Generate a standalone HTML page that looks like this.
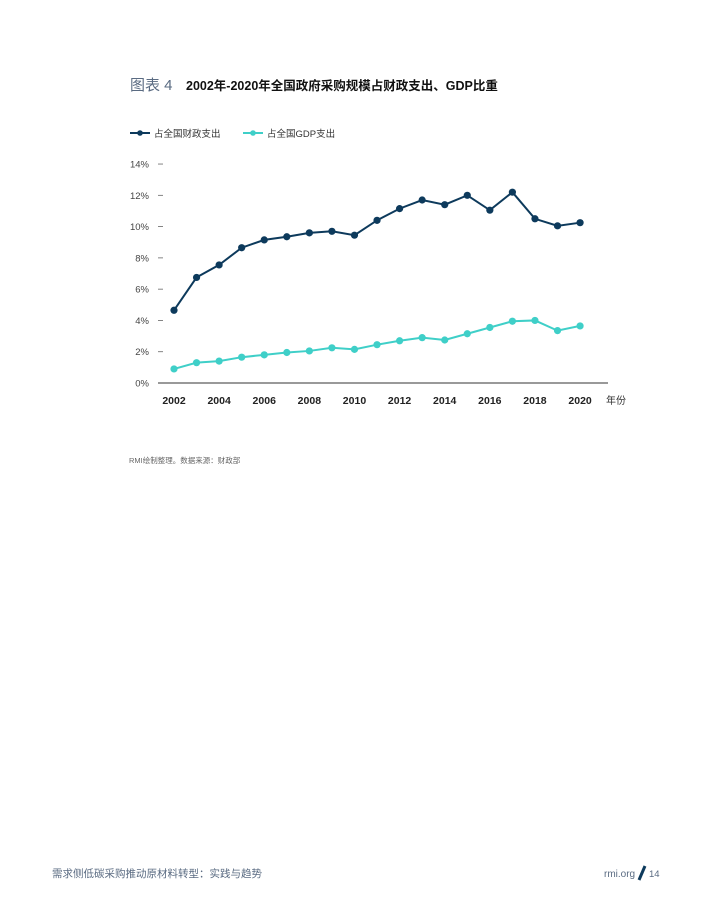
<!DOCTYPE html>
<html><head><meta charset="utf-8"><style>
body{margin:0;background:#fff;width:710px;height:919px;overflow:hidden;font-family:"Liberation Sans","Noto Sans CJK SC",sans-serif;}
</style></head><body>
<svg id="s" width="710" height="919" xmlns="http://www.w3.org/2000/svg" style="position:absolute;left:0;top:0">
<text x="130" y="90" font-size="15" fill="#5a6b82" font-family="Liberation Sans,Noto Sans CJK SC,sans-serif">图表 4</text>
<text x="186" y="90" font-size="12.5" font-weight="bold" fill="#111" font-family="Liberation Sans,Noto Sans CJK SC,sans-serif">2002年-2020年全国政府采购规模占财政支出、GDP比重</text>
<line x1="130" y1="133" x2="150" y2="133" stroke="#0d3a5c" stroke-width="2"/><circle cx="140" cy="133" r="2.8" fill="#0d3a5c"/>
<text x="154" y="137" font-size="9.5" fill="#333" font-family="Liberation Sans,Noto Sans CJK SC,sans-serif">占全国财政支出</text>
<line x1="243" y1="133" x2="263" y2="133" stroke="#3fcfc8" stroke-width="2"/><circle cx="253" cy="133" r="2.8" fill="#3fcfc8"/>
<text x="267" y="137" font-size="9.5" fill="#333" font-family="Liberation Sans,Noto Sans CJK SC,sans-serif">占全国GDP支出</text>
<g id="ax" font-size="9.5" fill="#444" font-family="Liberation Sans,sans-serif"></g>
<line x1="158" y1="383" x2="608" y2="383" stroke="#333" stroke-width="1"/>
<text x="606" y="404" font-size="10" fill="#333" font-family="Liberation Sans,Noto Sans CJK SC,sans-serif">年份</text>
<g id="d"></g>
<text x="129" y="463" font-size="7.5" fill="#666" font-family="Liberation Sans,Noto Sans CJK SC,sans-serif">RMI绘制整理。数据来源：财政部</text>
<text x="52" y="877" font-size="10.5" fill="#5a6b82" font-family="Liberation Sans,Noto Sans CJK SC,sans-serif">需求侧低碳采购推动原材料转型：实践与趋势</text>
<text x="604" y="877" font-size="10" fill="#5a6b82" font-family="Liberation Sans,sans-serif">rmi.org</text>
<line x1="639" y1="880" x2="645" y2="866" stroke="#0d3a5c" stroke-width="3"/>
<text x="649" y="877" font-size="9.5" fill="#5a6b82" font-family="Liberation Sans,sans-serif">14</text>
</svg>
<script>
var NS="http://www.w3.org/2000/svg";
function el(p,t,a,tx){var e=document.createElementNS(NS,t);for(var k in a)e.setAttribute(k,a[k]);if(tx)e.textContent=tx;p.appendChild(e);return e;}
var ax=document.getElementById('ax'),d=document.getElementById('d');
function Y(v){return 383-v*15.64;}function X(i){return 174+i*22.56;}
for(var v=0;v<=14;v+=2){el(ax,'text',{x:149,y:Y(v)+3.5,'text-anchor':'end'},v+'%');if(v>0)el(ax,'line',{x1:158,y1:Y(v),x2:163,y2:Y(v),stroke:'#666','stroke-width':0.8});}
for(var i=0;i<=18;i+=2){el(ax,'text',{x:X(i),y:404,'text-anchor':'middle','font-weight':'bold','font-size':10.5,fill:'#222'},2002+i);}
var A=[4.65,6.75,7.55,8.65,9.15,9.35,9.6,9.7,9.45,10.4,11.15,11.7,11.4,12.0,11.05,12.2,10.5,10.05,10.25];
var B=[0.9,1.3,1.4,1.65,1.8,1.95,2.05,2.25,2.15,2.45,2.7,2.9,2.75,3.15,3.55,3.95,4.0,3.35,3.65];
[[A,'#0d3a5c'],[B,'#3fcfc8']].forEach(function(s){var p=s[0].map(function(v,i){return X(i)+','+Y(v)}).join(' ');
el(d,'polyline',{points:p,fill:'none',stroke:s[1],'stroke-width':2});s[0].forEach(function(v,i){el(d,'circle',{cx:X(i),cy:Y(v),r:3.6,fill:s[1]});});});
</script>
</body></html>
